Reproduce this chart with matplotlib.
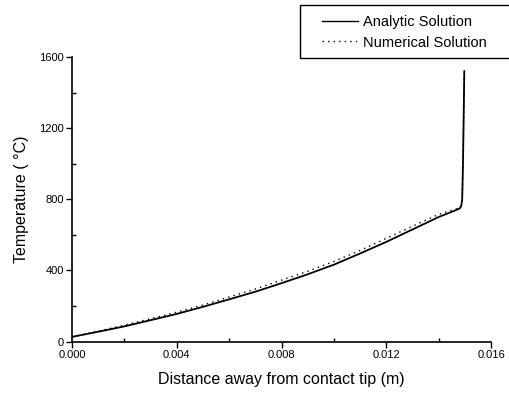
import matplotlib
matplotlib.use("Agg")
import matplotlib.pyplot as plt
from matplotlib.patches import Rectangle
from matplotlib.ticker import MultipleLocator

plt.rcParams["font.family"] = ["Liberation Sans", "DejaVu Sans"]

# analytic solution
x_analytic = [0.0, 0.001, 0.002, 0.003, 0.004, 0.005, 0.006, 0.007, 0.008,
              0.009, 0.010, 0.011, 0.012, 0.013, 0.014, 0.0146, 0.0148,
              0.01486, 0.0149, 0.01493, 0.01496, 0.01498]
y_analytic = [26, 55, 85, 120, 155, 195, 237, 280, 328,
              378, 432, 495, 560, 630, 700, 735, 748,
              760, 800, 1000, 1300, 1520]

# numerical solution
x_numeric = [0.0, 0.001, 0.002, 0.003, 0.004, 0.005, 0.006, 0.007, 0.008,
             0.009, 0.010, 0.011, 0.012, 0.013, 0.014, 0.0146, 0.0148,
             0.01488, 0.0149, 0.01493, 0.01496, 0.01498]
y_numeric = [26, 58, 92, 128, 165, 205, 250, 295, 345,
             395, 450, 512, 580, 648, 715, 742, 752,
             765, 800, 1000, 1300, 1520]

W, H = 509, 394
fig = plt.figure(figsize=(W / 100, H / 100), dpi=100)
ax = fig.add_axes([72 / W, 52.5 / H, 419 / W, 284.5 / H])

ax.plot(x_analytic, y_analytic, color="black", linewidth=1.3,
        label="Analytic Solution")
ax.plot(x_numeric, y_numeric, color="black", linewidth=1.0,
        linestyle=(0, (1, 3)), label="Numerical Solution")

ax.set_xlim(0, 0.016)
ax.set_ylim(0, 1600)
ax.xaxis.set_major_locator(MultipleLocator(0.004))
ax.xaxis.set_minor_locator(MultipleLocator(0.002))
ax.yaxis.set_major_locator(MultipleLocator(400))
ax.yaxis.set_minor_locator(MultipleLocator(200))
ax.xaxis.set_major_formatter(lambda v, p: "%.3f" % v)
ax.tick_params(which="major", direction="out", length=4, width=1,
               labelsize=8, pad=2)
ax.tick_params(which="minor", direction="in", length=3, width=1)

for s in ["top", "right"]:
    ax.spines[s].set_visible(False)
for s in ["left", "bottom"]:
    ax.spines[s].set_linewidth(1.2)

ax.set_xlabel("Distance away from contact tip (m)", fontsize=11.5, labelpad=9)
ax.set_ylabel("Temperature ( °C)", fontsize=11.5, labelpad=7)

# legend box, running off the right edge as in the original
fig.patches.append(Rectangle((300 / W, 1 - 58 / H), 230 / W, 53 / H,
                             transform=fig.transFigure, fill=False,
                             edgecolor="black", linewidth=1.0))
leg = fig.legend(loc="upper left", bbox_to_anchor=(322 / W, 1 - 15 / H),
                 bbox_transform=fig.transFigure, frameon=False, fontsize=10.5,
                 handlelength=2.5, handletextpad=0.3, borderpad=0,
                 borderaxespad=0, labelspacing=0.45)
leg.get_lines()[0].set_linewidth(1.0)

fig.savefig("out.png", dpi=100)
